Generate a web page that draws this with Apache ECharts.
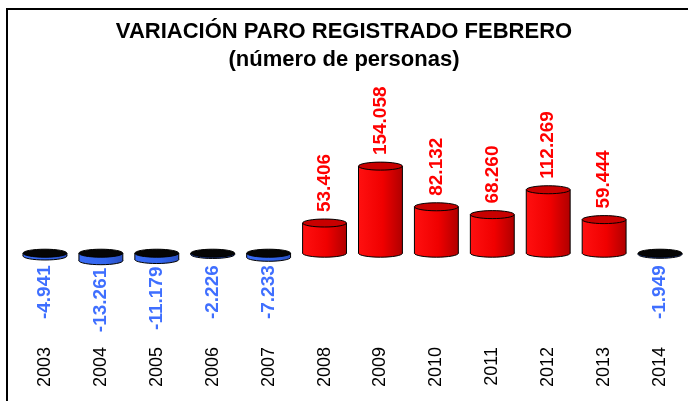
<!DOCTYPE html>
<html>
<head>
<meta charset="utf-8">
<script src="https://cdn.jsdelivr.net/npm/echarts@6/dist/echarts.min.js"></script>
<style>
html,body{margin:0;padding:0;background:#fff;}
#main{width:688px;height:401px;}
</style>
</head>
<body>
<div id="main"></div>
<script>
// datos
var years = ['2003','2004','2005','2006','2007','2008','2009','2010','2011','2012','2013','2014'];
var values = [-4941, -13261, -11179, -2226, -7233, 53406, 154058, 82132, 68260, 112269, 59444, -1949];
var titleText = 'VARIACIÓN PARO REGISTRADO FEBRERO';
var subText = '(número de personas)';

var posColor = '#ff0000';
var negColor = '#3f6fff';

// 154058 -> 154.058
function fmt(v) {
	var s = String(Math.abs(v)).replace(/\B(?=(\d{3})+(?!\d))/g, '.');
	return (v < 0 ? '-' : '') + s;
}

var chart = echarts.init(document.getElementById('main'));

function renderBar(params, api) {
	var idx = api.value(0);
	var val = api.value(1);
	var p = api.coord([idx, val]);
	var base = api.coord([idx, 0]);
	var w = api.size([1, 0])[0] * 0.785;
	var rx = w / 2, ry = 4;
	var cx = p[0];
	var topY, botY, bodyFill, capFill, label;
	if (val >= 0) {
		topY = p[1]; botY = base[1];
		bodyFill = new echarts.graphic.LinearGradient(0, 0, 1, 0, [
			{offset: 0, color: '#ff1010'}, {offset: 0.55, color: '#f00000'}, {offset: 1, color: '#b00000'}
		]);
		capFill = '#c80000';
		label = {
			type: 'text', x: cx, y: topY - ry - 7, rotation: Math.PI / 2,
			style: {text: fmt(val), fill: posColor, font: 'bold 19px "Liberation Sans", Arial, sans-serif', align: 'left', verticalAlign: 'middle'}
		};
	} else {
		topY = base[1]; botY = p[1];
		bodyFill = new echarts.graphic.LinearGradient(0, 0, 1, 0, [
			{offset: 0, color: '#3a6cf5'}, {offset: 0.6, color: '#3366ee'}, {offset: 1, color: '#2a4fc0'}
		]);
		capFill = '#050505';
		label = {
			type: 'text', x: cx, y: Math.max(botY + ry + 3, base[1] + 12), rotation: Math.PI / 2,
			style: {text: fmt(val), fill: negColor, font: 'bold 19px "Liberation Sans", Arial, sans-serif', align: 'right', verticalAlign: 'middle'}
		};
	}
	var children = [
		{type: 'ellipse', shape: {cx: cx, cy: botY, rx: rx, ry: ry}, style: {fill: bodyFill, stroke: '#000', lineWidth: 1}},
		{type: 'rect', shape: {x: cx - rx, y: topY, width: w, height: botY - topY}, style: {fill: bodyFill}},
		{type: 'line', shape: {x1: cx - rx, y1: topY, x2: cx - rx, y2: botY}, style: {stroke: '#000', lineWidth: 1}},
		{type: 'line', shape: {x1: cx + rx, y1: topY, x2: cx + rx, y2: botY}, style: {stroke: '#000', lineWidth: 1}},
		{type: 'ellipse', shape: {cx: cx, cy: topY, rx: rx, ry: ry}, style: {fill: capFill, stroke: '#000', lineWidth: 1}},
		label
	];
	return {type: 'group', children: children};
}

var option = {
	backgroundColor: '#fff',
	animation: false,
	title: {
		text: titleText + '\n' + subText,
		left: 'center',
		top: 13,
		textStyle: {
			fontFamily: '"Liberation Sans", Arial, sans-serif',
			fontWeight: 'bold',
			fontSize: 22,
			lineHeight: 28,
			color: '#000'
		}
	},
	graphic: [{
		type: 'rect',
		shape: {x: 7, y: 9, width: 700, height: 420},
		style: {fill: 'none', stroke: '#000', lineWidth: 2},
		z: -1
	}],
	grid: {left: 17, width: 673, top: 61, bottom: 63},
	xAxis: {
		type: 'category',
		data: years,
		axisLine: {show: false, onZero: false},
		axisTick: {show: false},
		axisLabel: {
			rotate: 90,
			margin: 9,
			color: '#000',
			fontSize: 18,
			fontFamily: '"Liberation Sans", Arial, sans-serif'
		}
	},
	yAxis: {
		type: 'value',
		min: -150000,
		max: 340000,
		show: false,
		splitLine: {show: false}
	},
	series: [{
		type: 'custom',
		renderItem: renderBar,
		encode: {x: 0, y: 1},
		data: values.map(function (v, i) { return [i, v]; })
	}]
};
chart.setOption(option);
</script>
</body>
</html>
